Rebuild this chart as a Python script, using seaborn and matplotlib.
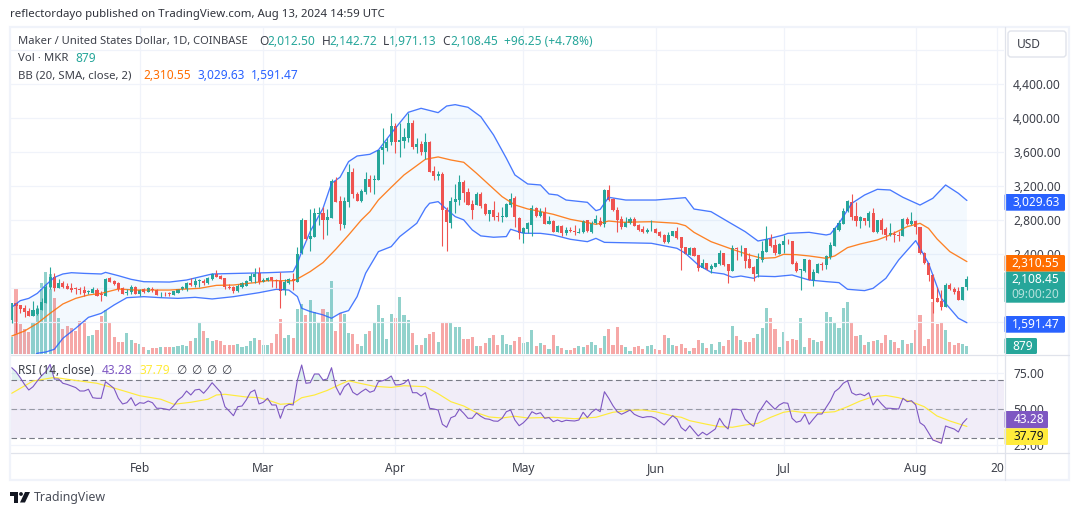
import matplotlib
matplotlib.use("Agg")
import matplotlib.pyplot as plt
import numpy as np
import pandas as pd
import seaborn as sns
from matplotlib.patches import Circle, FancyBboxPatch, Polygon, Rectangle

# Daily MKR/USD candles
opens = [1624,1820,1796,1761,1726,1675,1694,1741,1827,2008,
         2125,2004,2055,2023,2000,2000,1988,1976,1949,1945,
         1976,1929,1910,2121,2082,2063,1996,1937,1957,2016,
         1929,1988,1957,1988,1976,1937,1945,1937,1922,1937,
         1984,1992,2063,2035,2086,2086,2055,2102,2161,2141,
         2114,2016,2016,1969,2016,2027,2086,2125,2172,2074,
         2086,2129,2094,2086,1976,2055,2102,2076,2409,2801,
         2581,2605,2871,2879,2801,2828,3259,3024,2742,3016,
         3365,3107,3024,3130,3279,3267,3271,3624,3644,3714,
         3906,3722,3734,3769,3945,3655,3695,3604,3722,3381,
         3318,3342,2918,2769,3012,3036,3244,3126,2989,2981,
         3107,2989,2867,2918,2848,2832,2836,2973,3060,2828,
         2644,2694,2741,2945,2847,2898,2753,2792,2663,2733,
         2643,2682,2675,2651,2655,2796,2655,2761,2792,2749,
         3153,3043,2918,2808,2722,2761,2812,2741,2698,2659,
         2678,2690,2663,2624,2537,2616,2671,2600,2486,2392,
         2475,2388,2239,2290,2220,2251,2279,2412,2282,2204,
         2475,2467,2467,2341,2251,2165,2330,2428,2577,2506,
         2400,2506,2557,2553,2290,2208,2196,2333,2087,2177,
         2279,2271,2361,2498,2682,2753,2906,3016,2847,2788,
         2820,2792,2882,2655,2800,2690,2624,2635,2624,2616,
         2808,2753,2792,2718,2416,2290,2153,1879,1847,1773,
         2036,1985,1965,1859,2012.50]
highs = [1820,1827,1804,1800,1761,1847,1800,1878,2035,2243,
         2180,2102,2086,2063,2055,2008,2016,2023,1976,2008,
         1996,1969,2114,2129,2094,2074,2008,1984,2035,2023,
         1988,1996,2008,2008,1984,1953,1957,1953,1969,1992,
         2023,2074,2114,2114,2102,2106,2133,2180,2208,2157,
         2114,2043,2023,2043,2074,2094,2172,2231,2243,2114,
         2125,2133,2106,2184,2106,2114,2180,2487,2824,2801,
         2930,2938,2950,2958,2926,3279,3303,3083,3075,3455,
         3408,3134,3161,3369,3330,3330,3624,3879,3761,4055,
         3945,3938,3879,4055,3977,3761,3734,3820,3730,3436,
         3381,3369,2950,3075,3220,3330,3271,3181,3036,3134,
         3134,3005,2918,3024,2895,2958,2997,3122,3083,2836,
         2722,2780,2976,2949,2937,2957,2847,2800,2741,2741,
         2722,2722,2741,2702,2800,2796,2792,2859,2831,3161,
         3212,3055,2949,2847,2839,2839,2839,2753,2729,2702,
         2800,2702,2675,2631,2663,2675,2714,2600,2486,2479,
         2479,2388,2337,2290,2282,2298,2447,2416,2282,2506,
         2486,2506,2467,2408,2259,2408,2553,2729,2631,2573,
         2526,2624,2577,2553,2318,2220,2341,2341,2228,2290,
         2310,2388,2537,2722,2800,2937,3035,3106,3008,2847,
         2827,2910,2937,2800,2820,2714,2761,2675,2675,2820,
         2839,2890,2800,2722,2420,2290,2161,2008,1977,2055,
         2063,2008,2008,2016,2142.72]
lows = [1584,1467,1710,1663,1671,1671,1682,1741,1820,1984,
        1969,2004,1996,1984,1957,1929,1929,1906,1925,1937,
        1910,1847,1910,2067,2035,1969,1929,1918,1929,1929,
        1910,1945,1949,1949,1918,1894,1910,1906,1918,1937,
        1976,1969,2023,2008,2008,2035,2043,2094,2125,2102,
        1988,1988,1945,1953,2004,2023,2074,2055,2047,2070,
        2078,2008,1996,1769,1918,2043,1976,2076,2401,2566,
        2440,2605,2742,2577,2624,2828,3016,2683,2703,2958,
        3056,3024,3016,3103,3126,3107,3271,3459,3616,3683,
        3585,3538,3644,3722,3636,3585,3565,3514,3369,3271,
        3271,2495,2440,2711,2879,2977,3016,2977,2813,2977,
        2938,2860,2793,2801,2793,2781,2832,2958,2715,2573,
        2526,2643,2616,2839,2839,2753,2753,2655,2655,2612,
        2624,2655,2624,2647,2647,2663,2651,2753,2729,2722,
        3027,2910,2655,2694,2714,2753,2729,2675,2651,2643,
        2671,2643,2604,2533,2533,2612,2577,2212,2396,2388,
        2377,2204,2232,2212,2181,2243,2271,2263,2063,2200,
        2330,2377,2239,2232,2087,2126,2310,2420,2479,2384,
        2400,2408,2518,2282,2192,1977,2188,2094,2028,2173,
        2212,2228,2345,2494,2675,2753,2898,2800,2733,2702,
        2741,2714,2655,2651,2635,2565,2616,2545,2553,2612,
        2741,2741,2631,2404,2282,2083,1710,1832,1742,1773,
        1977,1930,1859,1859,1971.13]
closes = [1820,1788,1757,1718,1671,1741,1753,1839,2016,2125,
          1996,2055,2016,1988,1972,1984,1976,1945,1961,1984,
          1910,1918,2106,2074,2047,1984,1933,1957,2016,1933,
          1976,1949,1996,1976,1922,1945,1937,1929,1961,1984,
          2008,2055,2035,2082,2094,2063,2121,2165,2133,2106,
          2008,1996,1969,2027,2055,2086,2141,2165,2067,2094,
          2114,2094,2082,1969,2074,2102,2082,2401,2801,2573,
          2613,2879,2879,2801,2840,3259,3016,2750,3024,3361,
          3107,3024,3146,3283,3185,3279,3624,3655,3722,3906,
          3722,3742,3781,3945,3663,3695,3604,3722,3369,3318,
          3342,2918,2773,3024,3048,3252,3122,2977,2918,3110,
          2965,2867,2918,2832,2836,2848,2989,3048,2832,2648,
          2703,2761,2945,2847,2898,2753,2792,2663,2733,2643,
          2682,2671,2663,2659,2792,2667,2769,2808,2741,3153,
          3035,2918,2800,2722,2780,2812,2733,2682,2663,2682,
          2686,2651,2612,2541,2624,2671,2584,2471,2400,2471,
          2381,2239,2290,2220,2259,2294,2408,2271,2204,2467,
          2463,2475,2322,2239,2165,2341,2435,2577,2494,2408,
          2518,2553,2549,2282,2200,2220,2341,2094,2188,2282,
          2271,2377,2506,2706,2761,2910,3023,2831,2788,2835,
          2788,2882,2663,2800,2682,2624,2643,2624,2616,2812,
          2753,2792,2714,2408,2290,2153,1871,1836,1781,2032,
          1985,1957,1859,2012.20,2108.45]
volumes = [1907,7113,3300,2787,2457,3373,5023,7773,9057,8800,
           6160,3923,2750,3080,2860,2567,3593,3593,1980,2053,
           2640,4180,4840,3520,1870,1320,1320,2310,1540,1247,
           1137,770,440,660,660,770,770,770,807,917,
           990,917,1430,1760,3520,2530,1760,1430,1540,1430,
           990,990,990,1100,770,880,1430,1760,1540,990,
           990,1210,2200,3850,1760,2090,1760,4987,5537,4327,
           5977,4657,3557,4987,4657,8067,2567,4510,4437,2347,
           2237,1137,917,2237,2567,3557,5427,3997,1687,4437,
           3997,6307,4327,3777,2347,1027,1027,1797,2237,2457,
           1357,3447,3557,3447,3007,3007,1687,1687,1907,917,
           917,1247,1797,2127,1027,2127,1137,1027,1467,1907,
           1247,1357,2640,880,1210,990,550,2090,880,660,
           440,440,660,880,770,990,1320,990,660,1980,
           2750,990,2970,990,770,330,770,880,550,880,
           990,550,440,2090,1760,990,880,1100,660,330,
           660,1540,1210,660,1100,440,1320,880,1540,3080,
           1980,1540,1320,1320,1760,2200,2860,5060,3960,2750,
           770,2420,1430,1650,1540,3960,770,1760,1540,1320,
           1430,4620,4070,3410,2860,5060,5720,3410,1980,2090,
           990,1320,1430,1540,1210,2090,1540,1320,660,1540,
           1100,1210,2640,4290,880,1650,5720,3300,3410,2640,
           1320,990,1210,1100,879]

# Bollinger band readings: day number since the first candle, then price
upper_days = [0,2,4,6,8,10,12,14,17,21,22,25,28,31,37,41,47,53,60,66,67,68,70,73,75,77,79,81,84,86,89,93,96,
              100,102,104,107,110,113,116,118,121,124,126,128,130,135,137,138,140,144,151,158,160,164,168,172,
              175,177,181,182,187,191,192,194,197,200,203,206,209,213,216,219,222,224]
upper_band = [1773,1851,1878,1937,2035,2125,2165,2180,2172,2165,2184,2145,2102,2074,2070,2094,2165,2172,2180,2192,
              2290,2428,2664,2938,3232,3303,3487,3553,3573,3624,3820,4067,4114,
              4063,4141,4157,4126,4016,3800,3526,3330,3224,3212,3106,3094,3035,3008,2910,2925,3067,3035,3035,3063,
              2929,2898,2780,2663,2553,2573,2624,2643,2655,2624,2635,2761,2996,3094,3161,3153,3067,2976,3055,3212,
              3114,3029.63]
basis_days = [0,3,6,9,12,15,18,21,25,29,37,41,44,48,52,57,60,66,67,70,73,76,79,82,84,86,89,92,95,97,100,103,106,
              109,112,115,118,121,123,127,131,134,137,140,143,150,156,158,160,164,169,173,176,179,181,184,187,
              191,193,196,199,203,206,210,213,215,217,220,224]
basis_band = [1435,1494,1584,1702,1812,1878,1918,1937,1988,1976,1976,1988,1996,2031,2035,2063,2086,2086,2107,2193,
              2299,2456,2624,2801,2899,3036,3185,3330,3440,3514,3542,3506,3479,3350,3212,3075,2977,2930,2910,2867,
              2808,2780,2749,2788,2773,2780,2761,2733,2655,2545,2455,2388,2349,2357,2396,2392,2377,2349,2377,2475,
              2518,2565,2624,2722,2761,2702,2577,2428,2310.55]
lower_days = [0,3,6,8,10,12,15,18,21,24,27,31,35,39,43,47,52,58,62,65,67,68,70,73,75,77,79,81,83,86,89,91,93,95,
              97,98,100,102,104,106,108,110,113,116,117,120,124,127,131,135,137,139,150,156,158,161,164,167,169,
              171,174,175,179,183,187,191,194,196,200,202,205,208,212,215,218,220,222,224]
lower_band = [1000,1110,1232,1247,1279,1408,1526,1655,1702,1800,1886,1898,1886,1878,1890,1871,1898,1945,1984,1976,
              1899,1762,1723,1684,1644,1703,1734,1899,2174,2428,2487,2605,2683,2762,2938,2997,3016,2926,2840,2801,
              2683,2613,2597,2605,2691,2644,2643,2624,2573,2545,2584,2537,2526,2467,2408,2271,2185,2165,2126,2141,
              2114,2140,2134,2153,2094,2075,2063,1985,1969,1996,2114,2330,2557,2290,1879,1761,1644,1591.47]

# RSI (14) and its moving average
rsi_values = [78.9,76.1,71.9,67.2,63.3,65.6,69.6,73.3,76.1,81.2,71.0,71.0,68.0,67.2,66.1,65.0,62.6,62.6,63.8,57.9,
              57.5,57.5,69.1,66.8,64.4,57.5,53.5,54.4,57.9,52.3,54.4,54.0,55.6,54.4,50.5,50.5,50.0,49.3,52.3,56.3,
              58.6,62.6,59.8,63.3,63.8,61.0,64.4,68.4,65.0,61.7,51.6,48.6,45.3,51.6,52.1,56.3,61.7,63.3,53.5,54.7,
              57.5,52.8,52.8,43.5,51.6,53.3,52.8,70.3,80.8,68.0,68.4,74.5,74.5,70.3,71.0,78.9,65.6,59.8,
              65.6,68.0,61.7,59.8,62.1,64.0,61.7,62.8,69.1,69.8,71.0,73.1,66.8,67.0,68.0,70.7,61.4,61.4,59.1,61.4,
              50.5,50.0,49.3,39.3,37.2,43.9,45.1,50.0,47.0,43.5,43.5,47.2,44.9,43.2,42.8,41.6,41.4,43.5,48.1,49.3,
              42.3,38.3,40.4,43.5,48.1,46.5,47.4,43.5,44.0,41.1,42.3,41.1,42.1,41.8,41.6,42.3,47.7,44.0,47.7,50.0,
              48.1,62.1,57.5,52.3,48.1,46.3,47.7,49.3,46.3,44.9,44.0,44.6,44.6,43.5,41.1,38.8,42.3,45.3,
              43.0,37.0,34.6,38.3,34.6,31.1,33.7,31.8,33.9,36.0,43.5,38.8,36.0,49.8,49.8,49.3,42.8,40.0,37.9,46.7,
              51.2,55.8,52.8,49.8,52.8,54.4,54.0,43.5,40.7,41.6,46.3,39.3,43.0,46.5,46.5,51.2,55.8,62.1,64.4,68.0,
              69.8,61.4,59.8,60.5,59.3,61.4,52.8,57.0,53.5,50.5,50.5,50.2,50.0,57.5,55.1,55.8,52.8,40.4,38.3,33.4,
              28.3,27.2,26.0,38.1,37.0,36.0,33.9,40.0,43.28]
rsi_ma_days = [0,5,10,15,20,25,30,35,38,42,46,48,50,55,58,60,63,66,68,71,74,77,
               79,81,85,89,92,97,100,103,106,109,112,115,118,121,127,132,137,141,145,148,151,155,157,
               159,163,166,169,172,175,178,181,183,186,190,193,196,199,202,205,208,211,214,217,220,224]
rsi_ma_values = [61.0,69.6,72.1,70.0,68.0,63.8,59.3,56.8,53.3,54.7,56.8,59.8,60.3,58.4,57.9,56.3,53.3,54.0,57.9,59.8,63.0,67.2,
                 69.8,68.4,65.9,65.1,66.3,65.6,60.7,55.1,52.1,47.4,44.4,43.7,44.9,43.7,44.2,43.2,44.2,47.7,49.1,49.3,48.1,45.1,44.2,
                 41.8,39.3,37.6,37.2,38.8,40.0,44.2,47.7,48.6,47.4,47.4,48.1,51.6,55.6,58.6,59.5,57.9,55.1,51.6,45.1,41.6,37.79]

# Axis ticks
price_ticks = [1600,2000,2400,2800,3200,3600,4000,4400,4800]
price_tick_labels = ["","","2,400.00","2,800.00","3,200.00","3,600.00","4,000.00","4,400.00",""]
rsi_ticks = [25,50,75]
rsi_tick_labels = ["25.00","50.00","75.00"]
date_ticks = ["2024-02-01","2024-03-01","2024-04-01","2024-05-01","2024-06-01","2024-07-01","2024-08-01","2024-08-20"]
date_tick_labels = ["Feb","Mar","Apr","May","Jun","Jul","Aug","20"]

UP = "#26a69a"
DOWN = "#ef5350"
BLUE = "#2962ff"
ORANGE = "#ff6d00"
PURPLE = "#7e57c2"
YELLOW = "#ffeb3b"
GRID = "#f0f3fa"
EDGE = "#e0e3eb"
TEXT = "#3d404a"
FONT = ["Noto Sans", "DejaVu Sans"]
W, H = 1080, 515

sns.set_theme(style="white")
plt.rcParams["font.family"] = FONT
plt.rcParams["font.size"] = 8.6

dates = pd.date_range("2024-01-02", periods=len(closes), freq="D")
x_start = dates[0] - pd.Timedelta(hours=4)
x_end = dates[0] + pd.Timedelta(days=232.7)
is_up = np.array(closes) >= np.array(opens)
candle_colors = [UP if u else DOWN for u in is_up]


def rect(left, top, right, bottom):
    return [left / W, 1 - bottom / H, (right - left) / W, (bottom - top) / H]


fig = plt.figure(figsize=(W / 100, H / 100), dpi=100, facecolor="white")

# Volume shares the price pane, on a separate scale
vol_ax = fig.add_axes(rect(11, 27, 1004, 354), zorder=1)
vol_ax.bar(dates, volumes, width=0.72, color=candle_colors, alpha=0.5, linewidth=0)
vol_ax.set_ylim(0, 36000)
vol_ax.set_xlim(x_start, x_end)
vol_ax.axis("off")

ax = fig.add_axes(rect(11, 27, 1004, 354), zorder=2)
ax.patch.set_alpha(0)
ax.set_axisbelow(True)
ax.grid(True, color=GRID, linewidth=0.9)

# Bollinger bands
ax.fill(list(dates[upper_days]) + list(dates[lower_days])[::-1],
        upper_band + lower_band[::-1], color="#2196f3", alpha=0.05, linewidth=0)
sns.lineplot(x=dates[upper_days], y=upper_band, ax=ax, color=BLUE, linewidth=0.95, alpha=0.85)
sns.lineplot(x=dates[lower_days], y=lower_band, ax=ax, color=BLUE, linewidth=0.95, alpha=0.85)
sns.lineplot(x=dates[basis_days], y=basis_band, ax=ax, color=ORANGE, linewidth=0.95, alpha=0.85)

# Candles
ax.vlines(dates, lows, highs, colors=candle_colors, linewidth=0.8)
ax.bar(dates, np.abs(np.array(closes) - np.array(opens)), bottom=np.minimum(opens, closes),
       width=0.72, color=candle_colors, linewidth=0)

ax.set_xlim(x_start, x_end)
ax.set_ylim(1223.5, 5070.6)
ax.set_xticks(pd.to_datetime(date_ticks))
ax.tick_params(axis="x", labelbottom=False, length=0)
ax.set_yticks(price_ticks)
ax.set_yticklabels(price_tick_labels)
ax.yaxis.tick_right()
ax.tick_params(axis="y", length=0, pad=6.5, labelsize=8.6, labelcolor=TEXT)
ax.set_xlabel("")
ax.set_ylabel("")
for s in ax.spines.values():
    s.set_visible(False)

# RSI pane
rsi_ax = fig.add_axes(rect(11, 355, 1004, 452.7), zorder=2)
rsi_ax.set_axisbelow(True)
rsi_ax.grid(True, color=GRID, linewidth=0.9)
rsi_ax.axhspan(30, 70, color=PURPLE, alpha=0.1, linewidth=0)
rsi_arr = np.array(rsi_values)
rsi_ax.fill_between(dates, 70, rsi_arr, where=rsi_arr > 70, color=UP, alpha=0.14, linewidth=0, interpolate=True)
rsi_ax.fill_between(dates, 30, rsi_arr, where=rsi_arr < 30, color=DOWN, alpha=0.14, linewidth=0, interpolate=True)
for level in (70, 50, 30):
    rsi_ax.axhline(level, color="#787b86", linewidth=0.8, dashes=(5, 3), alpha=1 if level != 50 else 0.7)
sns.lineplot(x=dates[rsi_ma_days], y=rsi_ma_values, ax=rsi_ax, color=YELLOW, linewidth=0.85)
sns.lineplot(x=dates, y=rsi_values, ax=rsi_ax, color=PURPLE, linewidth=0.8)
rsi_ax.set_xlim(x_start, x_end)
rsi_ax.set_ylim(19.4, 87.8)
rsi_ax.set_xticks(pd.to_datetime(date_ticks))
rsi_ax.set_xticklabels(date_tick_labels)
rsi_ax.tick_params(axis="x", length=0, pad=6.5, labelsize=8.6, labelcolor=TEXT)
rsi_ax.set_yticks(rsi_ticks)
rsi_ax.set_yticklabels(rsi_tick_labels)
rsi_ax.yaxis.tick_right()
rsi_ax.tick_params(axis="y", length=0, pad=6.5, labelsize=8.6, labelcolor=TEXT)
rsi_ax.set_xlabel("")
rsi_ax.set_ylabel("")
for s in rsi_ax.spines.values():
    s.set_visible(False)

# Overlay in pixel units for the frame, legends and value tags
ov = fig.add_axes([0, 0, 1, 1], zorder=5)
ov.set_xlim(0, W)
ov.set_ylim(H, 0)
ov.axis("off")
ov.patch.set_alpha(0)

ov.add_patch(Rectangle((10, 27), 1059, 453, fill=False, edgecolor=GRID, linewidth=1.6))
ov.plot([1004.5, 1004.5], [27, 480], color=EDGE, linewidth=0.9)
ov.plot([11, 1069], [354.5, 354.5], color=EDGE, linewidth=0.9)
ov.plot([11, 1069], [452.8, 452.8], color=EDGE, linewidth=0.9)


def label(x, y, s, color=TEXT, **kw):
    ov.text(x, y, s, color=color, va="center", ha=kw.pop("ha", "left"), fontsize=kw.pop("fontsize", 8.6), **kw)


label(10, 15, "reflectordayo published on TradingView.com, Aug 13, 2024 14:59 UTC", color="#30333c", fontsize=8.22)

# Symbol legend
label(18, 41.5, "Maker / United States Dollar, 1D, COINBASE", fontsize=8.05)
legend_pairs = [(259.3, 267.3, "O", opens[-1]), (321.7, 329.5, "H", highs[-1]),
                (382.7, 389.3, "L", lows[-1]), (442.7, 450, "C", closes[-1])]
for x_key, x_value, key, value in legend_pairs:
    label(x_key, 41.5, key)
    label(x_value, 41.5, f"{value:,.2f}", color=UP)
change = closes[-1] - closes[-2]
label(504, 41.5, f"+{change:.2f} (+{change / closes[-2] * 100:.2f}%)", color=UP)
label(18, 58.5, "Vol · MKR", fontsize=8.2)
label(75, 58.5, f"{volumes[-1]}", color=UP)
label(18, 75.5, "BB (20, SMA, close, 2)", fontsize=8.2)
label(143, 75.5, f"{basis_band[-1]:,.2f}", color=ORANGE)
label(197, 75.5, f"{upper_band[-1]:,.2f}", color=BLUE)
label(251, 75.5, f"{lower_band[-1]:,.2f}", color=BLUE)

# RSI legend
label(18, 370, "RSI (14, close)", fontsize=8.5)
label(102, 370, f"{rsi_values[-1]:.2f}", color=PURPLE)
label(139, 370, f"{rsi_ma_values[-1]:.2f}", color=YELLOW)
for x in (176, 191, 206, 221):
    label(x, 370, "∅")


def tag(top, bottom, right, face, lines, text_color="white"):
    ov.add_patch(FancyBboxPatch((1004.5, top), right - 1004.5, bottom - top,
                                boxstyle="round,pad=0,rounding_size=1.5", facecolor=face, edgecolor="none"))
    step = (bottom - top) / len(lines)
    for i, (s, c) in enumerate(lines):
        label(1059.5 if right > 1060 else right - 4, top + step * (i + 0.5), s,
              color=c or text_color, ha="right", fontweight="medium")


tag(194, 210.7, 1065, BLUE, [(f"{upper_band[-1]:,.2f}", None)])
tag(255, 271.7, 1065, ORANGE, [(f"{basis_band[-1]:,.2f}", None)])
tag(271.7, 302.7, 1065, UP, [(f"{closes[-1]:,.2f}", None), ("09:00:20", "#b5e2dd")])
tag(316, 332.7, 1065, BLUE, [(f"{lower_band[-1]:,.2f}", None)])
tag(338, 354, 1037, UP, [(f"{volumes[-1]}", None)])
tag(411, 428.3, 1048, PURPLE, [(f"{rsi_values[-1]:.2f}", None)])
tag(428.3, 445, 1048, YELLOW, [(f"{rsi_ma_values[-1]:.2f}", "#131722")])

# Currency button
ov.add_patch(FancyBboxPatch((1008, 31), 58, 26, boxstyle="round,pad=0,rounding_size=3",
                            facecolor="white", edgecolor=EDGE, linewidth=1))
label(1017, 44.5, "USD")

# Footer wordmark
mark = "#131722"
ov.add_patch(Polygon([(10, 492), (18, 492), (18, 502.5), (14, 502.5), (14, 495.5), (10, 495.5)], color=mark, linewidth=0))
ov.add_patch(Circle((21, 494), 1.9, color=mark, linewidth=0))
ov.add_patch(Polygon([(25, 492), (30, 492), (25, 502.5), (20, 502.5)], color=mark, linewidth=0))
label(34, 497, "TradingView", color="#4a4e59", fontsize=8.9)

fig.savefig("out.png", dpi=100)
